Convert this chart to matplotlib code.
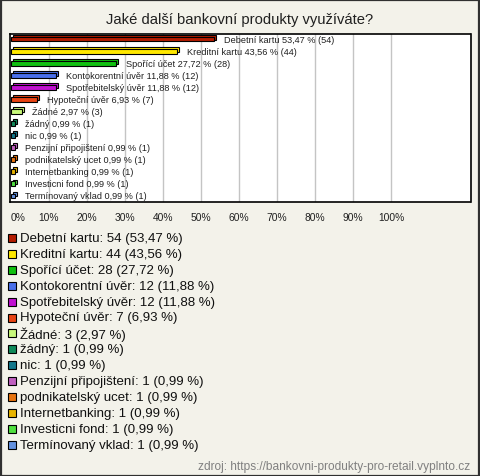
import matplotlib.pyplot as plt
from matplotlib.patches import Rectangle

# data
categories = ['Debetní kartu', 'Kreditní kartu', 'Spořící účet', 'Kontokorentní úvěr',
              'Spotřebitelský úvěr', 'Hypoteční úvěr', 'Žádné', 'žádný', 'nic',
              'Penzijní připojištení', 'podnikatelský ucet', 'Internetbanking',
              'Investicni fond', 'Termínovaný vklad']
counts = [54, 44, 28, 12, 12, 7, 3, 1, 1, 1, 1, 1, 1, 1]
respondents = 101
colors = ['#b41c00', '#ffe800', '#10c010', '#4a70ea', '#c010d0', '#e84414', '#c8f87a',
          '#108a5a', '#14788c', '#c060c0', '#e87410', '#e8b400', '#50e040', '#6492e0']
tick_values = [0, 10, 20, 30, 40, 50, 60, 70, 80, 90, 100]

W, H = 480, 477
bg = '#f3f2ea'

def fmt(v):
    return f'{v:.2f}'.replace('.', ',')

pcts = [c / respondents * 100 for c in counts]

plt.rcParams['font.family'] = ['Liberation Sans', 'DejaVu Sans']
fig = plt.figure(figsize=(W / 100, H / 100), dpi=100, facecolor=bg)

# outer frame
fig.patches.append(Rectangle((0.5 / W, 0.5 / H), 1 - 1.5 / W, 1 - 1.5 / H, transform=fig.transFigure,
                             fill=False, edgecolor='#303030', linewidth=1.6))

fig.text(240 / W, 1 - 20 / H, 'Jaké další bankovní produkty využíváte?', ha='center', va='center',
         fontsize=10.6, color='#202020')

ax = fig.add_axes([10 / W, 1 - 203 / H, 460.5 / W, 168 / H])
ax.set_facecolor('white')
for s in ax.spines.values():
    s.set_linewidth(1.2)
    s.set_color('black')
ax.set_xlim(-0.26, 120.9)
ax.set_ylim(13.5, -0.42)
for t in tick_values[1:]:
    ax.axvline(t, color='#c4c4c4', linewidth=1, zorder=0)

h = 0.4
dx, dy = 0.55, 0.16
for i, (p, c) in enumerate(zip(pcts, colors)):
    ax.add_patch(Rectangle((0 + dx, i - h / 2 - dy), p, h, facecolor=c, edgecolor='black',
                           linewidth=0.8, zorder=2))
    ax.add_patch(Rectangle((0, i - h / 2), p, h, facecolor=c, edgecolor='black',
                           linewidth=0.8, zorder=3))
    ax.annotate(f'{categories[i]} {fmt(p)} % ({counts[i]})', (p, i), xytext=(7.2, 0),
                textcoords='offset points', va='center', ha='left', fontsize=6.6,
                color='#202020', zorder=4)

ax.set_yticks([])
ax.set_xticks(tick_values)
ax.set_xticklabels([f'{t}%' for t in tick_values], fontsize=7.4, color='#202020')
ax.tick_params(axis='x', length=0, pad=7)
ax.get_xticklabels()[0].set_horizontalalignment('left')

# legend
for i, (cat, n, p, c) in enumerate(zip(categories, counts, pcts, colors)):
    yc = 239 + i * 15.9
    fig.patches.append(Rectangle((8 / W, 1 - (yc + 4) / H), 8 / W, 8 / H, transform=fig.transFigure,
                                 facecolor=c, edgecolor='black', linewidth=0.8))
    fig.text(20 / W, 1 - yc / H, f'{cat}: {n} ({fmt(p)} %)', ha='left', va='center',
             fontsize=9.5, color='#101010')

fig.text(470 / W, 1 - 467 / H, 'zdroj: https://bankovni-produkty-pro-retail.vyplnto.cz',
         ha='right', va='center', fontsize=8.6, color='#808080')

fig.savefig('out.png', dpi=100, facecolor=bg)
